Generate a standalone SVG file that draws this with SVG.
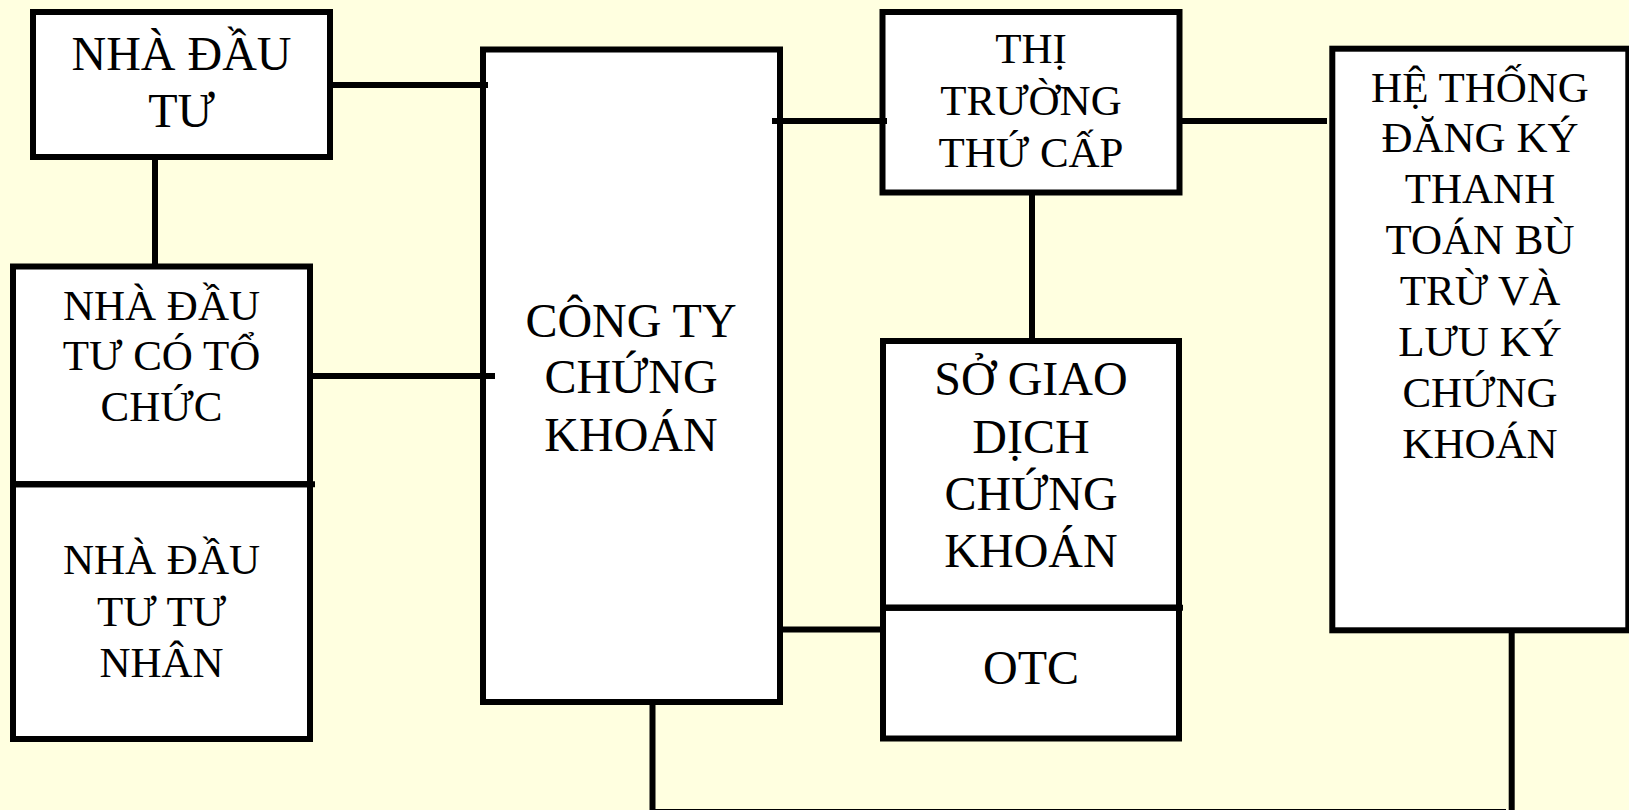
<svg xmlns="http://www.w3.org/2000/svg" width="1629" height="810" viewBox="0 0 1629 810">
<style>
.box{fill:#FFFFFF;stroke:#000000;stroke-width:6}
.ln{stroke:#000000;stroke-width:6;fill:none}
.t{font-family:"Liberation Serif","Times New Roman",serif;fill:#000000;text-anchor:middle}
.big{font-size:48px}
.sm{font-size:43px}
</style>
<rect x="0" y="0" width="1629" height="810" fill="#FFFFE0"/>
<g id="nha-dau-tu">
<rect class="box" x="33" y="12" width="297" height="145"/>
<text class="t big" x="181.5" y="70">NHÀ ĐẦU</text>
<text class="t big" x="181.5" y="126.7">TƯ</text>
</g>
<g id="nha-dau-tu-to-chuc">
<rect class="box" x="13" y="266.5" width="297" height="217.8"/>
<text class="t sm" x="161.5" y="320">NHÀ ĐẦU</text>
<text class="t sm" x="161.5" y="370.3">TƯ CÓ TỔ</text>
<text class="t sm" x="161.5" y="420.7">CHỨC</text>
</g>
<g id="nha-dau-tu-tu-nhan">
<rect class="box" x="13" y="484.3" width="297" height="254.7"/>
<line class="ln" x1="13" y1="484.3" x2="315" y2="484.3"/>
<text class="t sm" x="161.5" y="574">NHÀ ĐẦU</text>
<text class="t sm" x="161.5" y="625.5">TƯ TƯ</text>
<text class="t sm" x="161.5" y="676.7">NHÂN</text>
</g>
<g id="cong-ty-chung-khoan">
<rect class="box" x="483" y="49.5" width="297" height="652.5"/>
<text class="t big" x="631" y="336.7">CÔNG TY</text>
<text class="t big" x="631" y="393.3">CHỨNG</text>
<text class="t big" x="631" y="451">KHOÁN</text>
</g>
<g id="thi-truong-thu-cap">
<rect class="box" x="882.5" y="12" width="297" height="180.5"/>
<text class="t sm" x="1031" y="63.3">THỊ</text>
<text class="t sm" x="1031" y="115">TRƯỜNG</text>
<text class="t sm" x="1031" y="166.7">THỨ CẤP</text>
</g>
<g id="so-giao-dich">
<rect class="box" x="883" y="341" width="296" height="266.8"/>
<text class="t big" x="1031" y="395">SỞ GIAO</text>
<text class="t big" x="1031" y="453.3">DỊCH</text>
<text class="t big" x="1031" y="510">CHỨNG</text>
<text class="t big" x="1031" y="567.3">KHOÁN</text>
</g>
<g id="otc">
<rect class="box" x="883" y="607.8" width="296" height="130.7"/>
<line class="ln" x1="883" y1="607.8" x2="1183" y2="607.8"/>
<text class="t big" x="1031" y="684.3">OTC</text>
</g>
<g id="he-thong-dang-ky">
<rect class="box" x="1332.3" y="48.7" width="296" height="581.6"/>
<text class="t sm" x="1480" y="101.7">HỆ THỐNG</text>
<text class="t sm" x="1480" y="151.7">ĐĂNG KÝ</text>
<text class="t sm" x="1480" y="203.3">THANH</text>
<text class="t sm" x="1480" y="254">TOÁN BÙ</text>
<text class="t sm" x="1480" y="305">TRỪ VÀ</text>
<text class="t sm" x="1480" y="356">LƯU KÝ</text>
<text class="t sm" x="1480" y="406.6">CHỨNG</text>
<text class="t sm" x="1480" y="457.7">KHOÁN</text>
</g>
<g id="connectors">
<line class="ln" x1="330" y1="85" x2="488" y2="85"/>
<line class="ln" x1="155" y1="157" x2="155" y2="266"/>
<line class="ln" x1="310" y1="376" x2="495" y2="376"/>
<line class="ln" x1="772" y1="121" x2="887" y2="121"/>
<line class="ln" x1="1180" y1="121" x2="1327" y2="121"/>
<line class="ln" x1="1032" y1="193" x2="1032" y2="341"/>
<line class="ln" x1="780" y1="629.5" x2="883" y2="629.5"/>
<polyline class="ln" points="652.5,702 652.5,812 1506,812"/>
<line class="ln" x1="1511.7" y1="630" x2="1511.7" y2="812"/>
</g>
</svg>
